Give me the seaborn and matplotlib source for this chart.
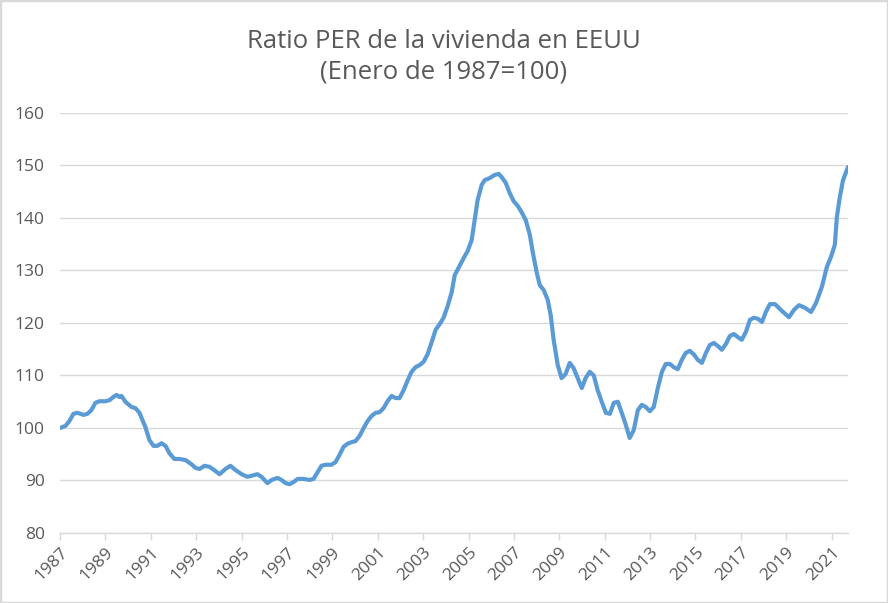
import matplotlib
matplotlib.use("Agg")
import matplotlib.pyplot as plt
import seaborn as sns
import pandas as pd
from matplotlib.patches import Rectangle

# fractional year and ratio (Jan 1987 = 100)
years = [1987.00, 1987.24, 1987.41, 1987.59, 1987.77, 1988.03, 1988.21, 1988.38, 1988.56, 1988.74,
         1989.00, 1989.18, 1989.35, 1989.49, 1989.62, 1989.71, 1989.88, 1990.15, 1990.32, 1990.50,
         1990.76, 1990.94, 1991.12, 1991.29, 1991.47, 1991.65, 1991.82, 1992.04, 1992.26, 1992.53,
         1992.79, 1992.97, 1993.15, 1993.37, 1993.59, 1993.85, 1994.03, 1994.29, 1994.51, 1994.73,
         1995.00, 1995.26, 1995.44, 1995.70, 1995.88, 1996.05, 1996.14, 1996.32, 1996.58, 1996.76,
         1996.94, 1997.11, 1997.29, 1997.47, 1997.73, 1998.00, 1998.17, 1998.35, 1998.52, 1998.70,
         1998.96, 1999.14, 1999.32, 1999.49, 1999.67, 1999.85, 2000.02, 2000.20, 2000.38, 2000.55,
         2000.73, 2000.91, 2001.08, 2001.26, 2001.43, 2001.61, 2001.79, 2001.96, 2002.14, 2002.32,
         2002.49, 2002.67, 2002.85, 2003.02, 2003.20, 2003.38, 2003.55, 2003.73, 2003.90, 2004.08,
         2004.26, 2004.39, 2004.61, 2004.79, 2004.96, 2005.14, 2005.27, 2005.40, 2005.58, 2005.71,
         2005.93, 2006.15, 2006.33, 2006.46, 2006.64, 2006.81, 2006.99, 2007.17, 2007.34, 2007.52,
         2007.70, 2007.83, 2008.00, 2008.14, 2008.31, 2008.49, 2008.62, 2008.75, 2008.93, 2009.10,
         2009.28, 2009.46, 2009.63, 2009.81, 2009.99, 2010.16, 2010.34, 2010.52, 2010.69, 2010.87,
         2011.05, 2011.23, 2011.40, 2011.58, 2011.75, 2011.93, 2012.10, 2012.28, 2012.46, 2012.63,
         2012.81, 2012.99, 2013.16, 2013.34, 2013.52, 2013.69, 2013.87, 2014.04, 2014.22, 2014.40,
         2014.57, 2014.75, 2014.93, 2015.10, 2015.28, 2015.46, 2015.63, 2015.81, 2015.99, 2016.16,
         2016.34, 2016.51, 2016.69, 2016.87, 2017.04, 2017.22, 2017.40, 2017.57, 2017.75, 2017.93,
         2018.10, 2018.28, 2018.50, 2018.81, 2019.12, 2019.34, 2019.56, 2019.82, 2020.09, 2020.31,
         2020.57, 2020.79, 2020.97, 2021.14, 2021.23, 2021.36, 2021.50, 2021.72]
ratio = [100.0, 100.4, 101.3, 102.7, 102.9, 102.5, 102.7, 103.4, 104.8, 105.1,
         105.1, 105.3, 105.9, 106.3, 105.9, 106.1, 105.0, 104.0, 103.8, 102.9,
         100.2, 97.7, 96.6, 96.6, 97.1, 96.6, 95.2, 94.1, 94.1, 93.9,
         93.1, 92.4, 92.2, 92.8, 92.6, 91.8, 91.2, 92.2, 92.8, 92.0,
         91.2, 90.7, 90.9, 91.2, 90.7, 89.9, 89.5, 90.1, 90.5, 90.1,
         89.5, 89.3, 89.7, 90.3, 90.3, 90.1, 90.3, 91.6, 92.8, 93.0,
         93.0, 93.5, 94.9, 96.4, 97.0, 97.3, 97.5, 98.5, 100.0, 101.3,
         102.3, 102.9, 103.0, 103.8, 105.1, 106.1, 105.7, 105.7, 107.2, 109.1,
         110.7, 111.6, 112.0, 112.6, 114.1, 116.4, 118.7, 119.8, 121.0, 123.2,
         125.9, 129.1, 130.9, 132.4, 133.7, 135.8, 139.6, 143.4, 146.3, 147.2,
         147.6, 148.2, 148.4, 147.8, 146.7, 144.8, 143.2, 142.3, 141.1, 139.6,
         136.8, 133.5, 129.7, 127.2, 126.3, 124.4, 121.5, 116.8, 112.0, 109.5,
         110.3, 112.4, 111.4, 109.5, 107.6, 109.5, 110.7, 110.0, 107.2, 105.0,
         102.9, 102.7, 104.8, 105.0, 102.9, 100.6, 98.1, 99.6, 103.4, 104.4,
         104.0, 103.2, 104.0, 107.6, 110.7, 112.2, 112.2, 111.6, 111.2, 113.0,
         114.3, 114.7, 114.0, 113.0, 112.4, 114.3, 115.8, 116.2, 115.6, 114.9,
         116.0, 117.5, 117.9, 117.3, 116.8, 118.3, 120.6, 121.0, 120.8, 120.2,
         122.1, 123.6, 123.6, 122.3, 121.1, 122.5, 123.4, 122.9, 122.1, 123.8,
         126.9, 130.7, 132.6, 134.9, 140.2, 144.0, 147.2, 149.7]

tick_years = list(range(1987, 2022, 2))
y_ticks = [80, 90, 100, 110, 120, 130, 140, 150, 160]
title = "Ratio PER de la vivienda en EEUU\n(Enero de 1987=100)"

df = pd.DataFrame({"year": years, "ratio": ratio})

sns.set_theme(style="white")
plt.rcParams["font.family"] = ["Open Sans", "DejaVu Sans"]

fig = plt.figure(figsize=(8.88, 6.03), dpi=100)
ax = fig.add_axes([60 / 888, 1 - 533 / 603, (848 - 60) / 888, (533 - 113) / 603])

sns.lineplot(data=df, x="year", y="ratio", ax=ax, color="#5B9BD5", linewidth=3.0,
             solid_joinstyle="round", solid_capstyle="round")

grey = "#D9D9D9"
ax.set_xlim(1987, 2021.72)
ax.set_ylim(80, 160)
ax.set_yticks(y_ticks)
ax.set_xticks(tick_years)
ax.set_xticklabels([str(t) for t in tick_years], rotation=45, ha="right",
                   rotation_mode="anchor", color="#595959", fontsize=12.5)
ax.set_yticklabels([str(t) for t in y_ticks], color="#595959", fontsize=12.5)
ax.yaxis.grid(True, color=grey, linewidth=1)
ax.xaxis.grid(False)
ax.set_axisbelow(True)
for s in ["top", "right", "left"]:
    ax.spines[s].set_visible(False)
ax.spines["bottom"].set_color(grey)
ax.spines["bottom"].set_linewidth(1)
ax.tick_params(axis="x", bottom=True, length=5, width=1, color=grey, pad=3)
ax.tick_params(axis="y", left=False, length=0, pad=11)
ax.set_xlabel("")
ax.set_ylabel("")

fig.text(0.5, 1 - 57 / 603, title, ha="center", va="center", color="#595959",
         fontsize=18.5, linespacing=1.3)

fig.patches.append(Rectangle((0, 0), 1, 1, transform=fig.transFigure, fill=False,
                             edgecolor=grey, linewidth=2.5))

fig.savefig("out.png", dpi=100)
